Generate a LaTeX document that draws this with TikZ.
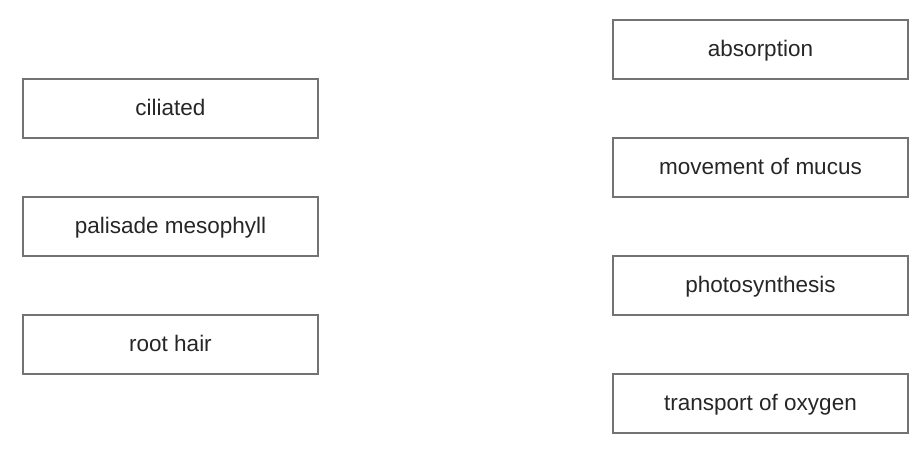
\documentclass[tikz,border=0pt]{standalone}
\usepackage{fontspec}
\setmainfont{Liberation Sans}
\begin{document}
\begin{tikzpicture}[x=1pt,y=-1pt,
  cellbox/.style={draw=black!55,line width=1.1pt,minimum width=295pt,minimum height=59pt,inner sep=0pt,
    text height=17pt,text depth=4pt,
    font=\fontsize{22.5}{26}\selectfont,text=black!85}]
\useasboundingbox (0,0) rectangle (916,464);
\node[cellbox] (l1) at (170.5,108.5) {ciliated};
\node[cellbox] (l2) at (170.5,226.5) {palisade mesophyll};
\node[cellbox] (l3) at (170.5,344.5) {root hair};
\node[cellbox] (r1) at (760.5,49.5) {absorption};
\node[cellbox] (r2) at (760.5,167.5) {movement of mucus};
\node[cellbox] (r3) at (760.5,285.5) {photosynthesis};
\node[cellbox] (r4) at (760.5,403.5) {transport of oxygen};
\end{tikzpicture}
\end{document}
